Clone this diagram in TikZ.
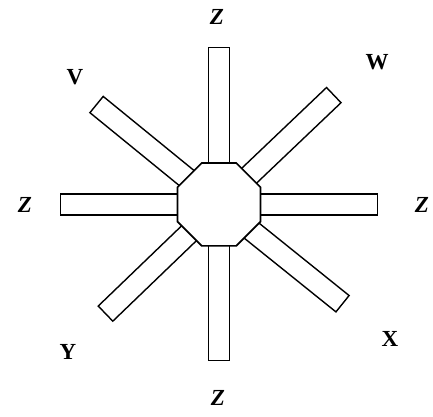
\documentclass[tikz,border=0pt]{standalone}
\usepackage{fontspec}
\setmainfont{Liberation Serif}
\begin{document}
\begin{tikzpicture}[x=1pt,y=1pt,
  arm/.style={draw=black,fill=white,line width=1.4pt,line join=miter},
  octa/.style={draw=black,fill=white,line width=1.7pt,line join=miter},
  lbl/.style={font=\fontsize{23}{27}\selectfont\bfseries, inner sep=0pt},
  zlbl/.style={font=\fontsize{23}{27}\selectfont\bfseries\itshape, inner sep=0pt}]
\useasboundingbox (0,0) rectangle (433,416);
\coordinate (C) at (219,211.6);
% arms
\foreach \ang/\len in {0/158.3,90/156.8,180/158.3,270/156.2,140.8/158,43.6/158.5,223.9/157.5,321.2/158.5}{
  \begin{scope}[shift={(C)},rotate=\ang]
    \draw[arm] (0,-10.5) rectangle (\len,10.5);
  \end{scope}
}
% octagon hub
\draw[octa] ([shift={(22.5:44.9)}]C) -- ([shift={(67.5:44.9)}]C) -- ([shift={(112.5:44.9)}]C) -- ([shift={(157.5:44.9)}]C) -- ([shift={(202.5:44.9)}]C) -- ([shift={(247.5:44.9)}]C) -- ([shift={(292.5:44.9)}]C) -- ([shift={(337.5:44.9)}]C) -- cycle;
% labels
\node[zlbl] (ztop) at (217,399) {Z};
\node[zlbl] (zbot) at (218,18) {Z};
\node[zlbl] (zleft) at (25,211) {Z};
\node[zlbl] (zright) at (422,211) {Z};
\node[lbl] (v) at (75,339) {V};
\node[lbl] (w) at (377,354) {W};
\node[lbl] (x) at (390,77) {X};
\node[lbl] (y) at (68,64) {Y};
\end{tikzpicture}
\end{document}
